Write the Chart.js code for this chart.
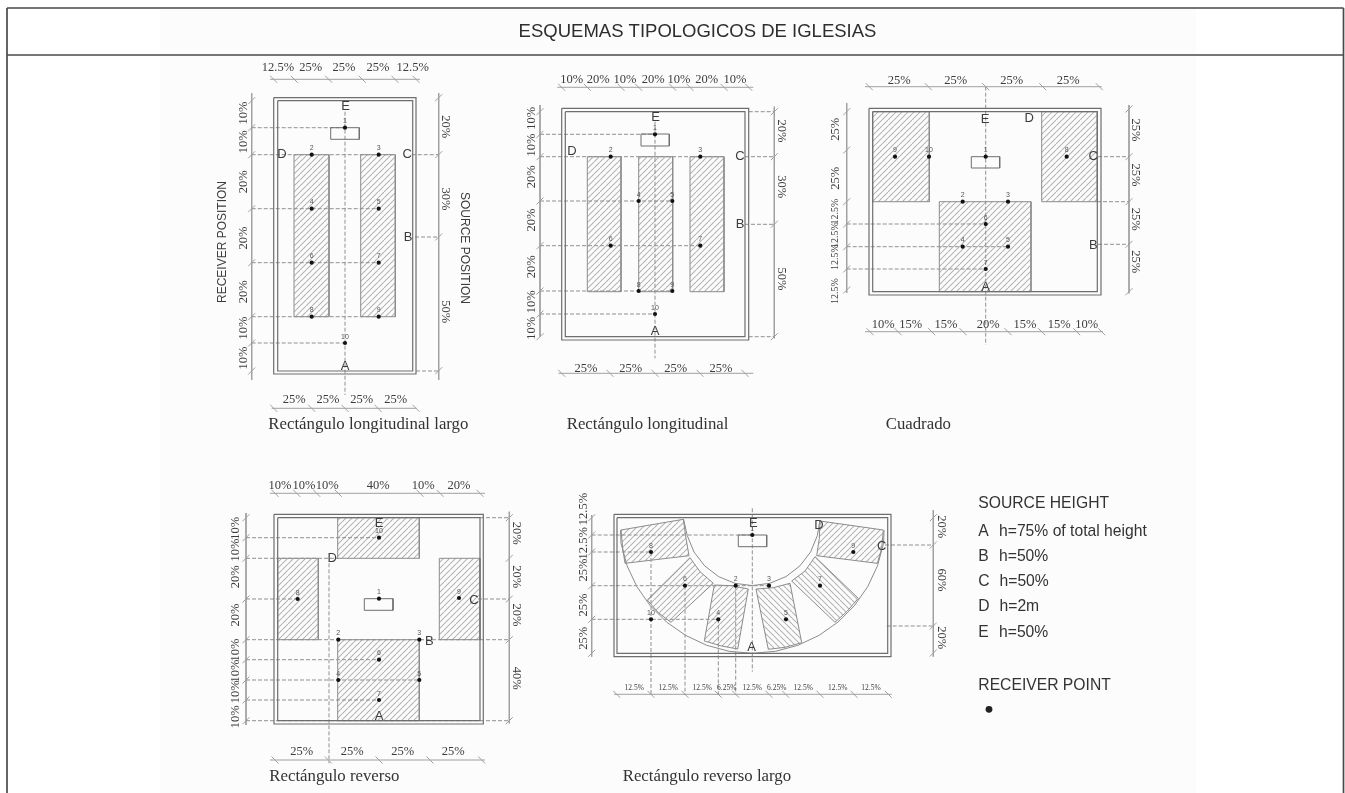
<!DOCTYPE html>
<html><head><meta charset="utf-8">
<style>html,body{margin:0;padding:0;background:#fff;overflow:hidden}canvas{display:block;filter:blur(0.55px)}</style>
<script src="https://cdn.jsdelivr.net/npm/chart.js@4/dist/chart.umd.min.js"></script>
</head><body><canvas id="c" width="1345" height="793"></canvas>
<script>
const titleText = ["ESQUEMAS TIPOLOGICOS DE IGLESIAS", 697.5, 31.5];
const frameLines = [[7,8,7,793],[7,8,1343.5,8],[1343.5,8,1343.5,793],[7,55,1343.5,55]];
const panelBand = [160,9,1196,793];

const wallRects = [
 [273.7,97.7,416,374],[277.7,100.7,412.7,371],
 [561.7,108.3,748.7,340],[565.3,111.7,745,336.7],
 [869,108.3,1101,295],[872.7,111.7,1097.3,291.7],
 [274,514.3,483.3,724],[277.7,517.7,480,720.7],
 [614,514.3,891,656.7],[617,517.7,887.7,653.3]];
const sourceRects = [
 [330.7,127.7,359.3,139.3],[641,134,669.3,146],[971.3,156.7,999.7,168],
 [364.3,598.7,393,610.3],[738.3,535,766.7,546.7]];
const hatchRects = [
 [294,154.7,329,316.7],[360.7,154.7,395.3,316.7],
 [587.3,156.7,621,291.7],[638.7,156.7,672.7,291.7],[690,156.7,724,291.7],
 [872.7,111.7,929.3,201.7],[1041.7,111.7,1097.3,201.7],[939.3,201.7,1031,291.7],
 [337.7,517.7,419.3,558.3],[337.7,639.7,419.3,720.7],[277.7,558.3,318.3,639.7],[439.3,558.3,480,639.7]];
const wedgeA = [[621,530],[683.3,519.3],[686,538.3],[689,555.7],[625,563.3],[622.7,548.3]];
const wedgeB = [[690,557.7],[700,571.7],[713.3,583.3],[671,622.3],[658.3,612.7],[647.3,600]];
const wedgeC = [[714.3,585],[731.7,585.7],[748.3,589],[737.7,649],[721.7,646],[704.3,641]];
const wedgeD = [[756,589],[773.3,587.7],[790,583.3],[801.7,642.7],[785,647.3],[768.3,649.3]];
const wedgeE = [[791.7,581],[805,571],[815,556.7],[858.3,598.3],[847.3,611],[835,622.3]];
const wedgeF = [[816.7,555.7],[819.3,538.3],[820,521],[883.3,530],[881.7,548.3],[877.3,563.3]];
const outerArc = [[620.5,530],[621,543.1],[627,565.6],[636.9,586.7],[650.2,605.7],[666.6,622.1],[685.6,635.4],[706.7,645.3],[729.2,651.3],[752.3,653.3],[775.4,651.3],[797.9,645.3],[819,635.4],[838,622.1],[854.4,605.7],[867.7,586.7],[877.6,565.6],[883.6,543.1],[884,530]];
const innerArc = [[683.5,519],[687.3,535.7],[694,552],[704.7,565.9],[718.6,576.6],[734.9,583.3],[752.3,585.6],[769.7,583.3],[786,576.6],[799.9,565.9],[810.6,552],[817.3,535.7],[820,520]];

const dashedLines = [
 // plan 1
 [345,111.7,345,395],[251.7,127.7,345,127.7],[251.7,154.7,395,154.7],[251.7,208.7,378.7,208.7],[251.7,262.7,378.7,262.7],[251.7,316.7,378.7,316.7],[251.7,343,345,343],
 [411.7,154.7,438.7,154.7],[415,237,438.7,237],[416,371,438.7,371],
 // plan 2
 [655,121.7,655,358.3],[540,134.3,655,134.3],[540,156.7,723,156.7],[540,201,672.7,201],[540,245.7,700,245.7],[540,291,672.7,291],[540,314,655,314],
 [748.7,111.7,774.3,111.7],[745,156.7,774.3,156.7],[745,224.3,774.3,224.3],[748.7,336.7,774.3,336.7],
 // plan 3
 [985.7,86.7,985.7,345],[846.7,224,985.7,224],[846.7,246.7,1008,246.7],[846.7,269,985.7,269],
 [1098,156.7,1129,156.7],[1097,201.7,1129,201.7],[1098,244.3,1129,244.3],
 // plan 4
 [246,537.7,379,537.7],[246,558.3,338.3,558.3],[246,599,297.7,599],[246,639.7,509.3,639.7],[246,659.7,379,659.7],[246,680,419.3,680],[246,700,379,700],[246,720.7,509.3,720.7],
 [480,517.7,509.3,517.7],[478,599,509.3,599],[329,563.3,329,763.3],
 // plan 5
 [752.3,508.3,752.3,671.7],[591.7,535,752.3,535],[591.7,552,651,552],[591.7,585.7,769,585.7],[591.7,619.3,718.3,619.3],
 [651,552,651,695],[685,585.7,685,695],[718.3,619.3,718.3,695],[735.7,585.7,735.7,695],
 [885,545,933.3,545],[886.7,626,933.3,626]];

const dimHorizontal = [
 [79.3,270,420,[273.7,294.3,328.7,362.3,395,416]],
 [408.3,271.7,416.7,[273.7,311.7,345,378,416]],
 [87.3,557.3,753.3,[561.7,587.3,621,638.7,672.7,690,724,748.7]],
 [373.3,558.3,753.3,[561.7,610,655,700,745]],
 [86.7,865,1101.7,[869.3,928.3,985.7,1042.7,1099.3]],
 [331.7,865,1103,[870,898,931.7,963,1008,1041.7,1076.7,1101.7]],
 [493.3,270,485,[275,296.7,316.7,338.3,420,440,480]],
 [760,270,485,[275,328.3,379,430,481.7]],
 [694.3,614,891.7,[616.7,651,685,718.3,735.7,769,785.7,820,854,888.3]]];
const dimVertical = [
 [251.7,93,380,[100.7,127.7,154.7,208.7,262.7,316.7,343,371]],
 [438.7,93,380,[97.7,154.7,237,370.7]],
 [540,105,336.7,[111.7,134.3,156.7,201,245.7,291,314,336.7]],
 [774.3,106.7,338.3,[111.7,156.7,224.3,336.7]],
 [846.7,103,293,[111.7,150,201.7,224,246.7,269,290]],
 [1129,105,293.3,[109,156.7,201.7,244.3,291.7]],
 [246,513,725,[517.7,537.7,558.3,599,639.7,659.7,680,700,720.7]],
 [509.3,511.7,723.3,[517.7,558.3,599,639.7,720.7]],
 [591.7,515,656.7,[517.7,535,552,585.7,619.3,653.3]],
 [933.3,510,656.7,[517.7,545,626,653]]];

const receivers = [
 [345,127.7,"1"],[311.7,154.7,"2"],[378.7,154.7,"3"],[311.7,208.7,"4"],[378.7,208.7,"5"],[311.7,262.7,"6"],[378.7,262.7,"7"],[311.7,316.7,"8"],[378.7,316.7,"9"],[345,343,"10"],
 [655,134.3,"1"],[610.7,156.7,"2"],[700.3,156.7,"3"],[638.7,201,"4"],[672.3,201,"5"],[610.7,245.7,"6"],[700.3,245.7,"7"],[638.7,291,"8"],[672.3,291,"9"],[655,314,"10"],
 [985.7,156.7,"1"],[962.7,201.7,"2"],[1008,201.7,"3"],[962.7,246.7,"4"],[1008,246.7,"5"],[985.7,224,"6"],[985.7,269,"7"],[1066.7,156.7,"8"],[895,156.7,"9"],[929,156.7,"10"],
 [379,598.7,"1"],[338.3,639.7,"2"],[419.3,639.7,"3"],[338.3,680,"4"],[419.3,680,"5"],[379,659.7,"6"],[379,700,"7"],[297.7,599,"8"],[459,598,"9"],[379,537.7,"10"],
 [752.3,535,"1"],[735.7,585.7,"2"],[769,585.7,"3"],[718.3,619.3,"4"],[786,619.3,"5"],[685,585.7,"6"],[820,585.7,"7"],[651,552,"8"],[853.3,552,"9"],[651,619.3,"10"]];
const legendDot = [[989,709.3]];

const letters = [
 ["E",345.7,106],["D",282,154],["C",407.3,154],["B",408,237],["A",345,366.7],
 ["E",655.7,117.7],["D",572,151.7],["C",740,156.7],["B",740,224.3],["A",655,331.7],
 ["E",985,119.3],["D",1029.3,118.3],["C",1093.3,156],["B",1093.3,245],["A",985.7,287.7],
 ["E",379,523.3],["D",332.3,558.3],["C",474,600],["B",429.3,641],["A",379,716],
 ["E",753.3,523.3],["D",819,525],["C",881.7,546.7],["A",751.7,647.7]];
const pctFlat = [
 ["12.5%",278,68],["25%",310.7,68],["25%",344,68],["25%",378,68],["12.5%",412.7,68],
 ["25%",294.3,400],["25%",328,400],["25%",361.7,400],["25%",395.7,400],
 ["10%",571.7,80],["20%",598.3,80],["10%",625,80],["20%",653.3,80],["10%",679,80],["20%",706.7,80],["10%",735,80],
 ["25%",586,368.3],["25%",630.7,368.3],["25%",675.7,368.3],["25%",721,368.3],
 ["25%",899.3,80.7],["25%",955.7,80.7],["25%",1011.7,80.7],["25%",1068.3,80.7],
 ["10%",883.3,325],["15%",910.7,325],["15%",946,325],["20%",988.3,325],["15%",1025,325],["15%",1059.3,325],["10%",1086.7,325],
 ["10%",280,485.7],["10%",304,485.7],["10%",327.3,485.7],["40%",378.3,485.7],["10%",423.3,485.7],["20%",459,485.7],
 ["25%",301.7,751.7],["25%",352.3,751.7],["25%",402.7,751.7],["25%",453.3,751.7]];
const pctFlatTiny = [
 ["12.5%",634.3,688.3],["12.5%",668.3,688.3],["12.5%",702.3,688.3],["6.25%",726.7,688.3],["12.5%",752.3,688.3],["6.25%",776.7,688.3],["12.5%",803.3,688.3],["12.5%",837.7,688.3],["12.5%",871,688.3]];
const pctUp = [
 ["10%",243.3,113],["10%",243.3,141.7],["20%",243.3,181.7],["20%",243.3,238],["20%",243.3,291.7],["10%",243.3,328],["10%",243.3,358],
 ["10%",531.7,118.3],["10%",531.7,145],["20%",531.7,176.7],["20%",531.7,220],["20%",531.7,266.7],["10%",531.7,301.7],["10%",531.7,328.3],
 ["25%",835.7,129.3],["25%",835.7,178.3],
 ["10%",235.7,528.3],["10%",235.7,550],["20%",235.7,576.7],["20%",235.7,615],["10%",235.7,650],["10%",235.7,671],["10%",235.7,691.7],["10%",235.7,716.7],
 ["12.5%",584,509],["12.5%",584,543.3],["25%",584,570],["25%",584,605],["25%",584,638.3]];
const pctUpSmall = [["12.5%",835,211.7],["12.5%",835,235],["12.5%",835,257],["12.5%",835,291]];
const pctDown = [
 ["20%",445.7,126.7],["30%",445.7,199],["50%",445.7,311.7],
 ["20%",781.7,131],["30%",781.7,186.7],["50%",781.7,279],
 ["25%",1135.7,130],["25%",1135.7,175],["25%",1135.7,219.3],["25%",1135.7,261.7],
 ["20%",516.7,533.3],["20%",516.7,576.7],["20%",516.7,615],["40%",516.7,678.3],
 ["20%",941.7,526.7],["60%",941.7,580],["20%",941.7,637.7]];
const sideCaptions = [["RECEIVER POSITION",222.7,242,-1],["SOURCE POSITION",464,248,1]];
const planCaptions = [
 ["Rectángulo longitudinal largo",268.3,425],["Rectángulo longitudinal",566.7,425],["Cuadrado",885.7,425],
 ["Rectángulo reverso",269.3,776.7],["Rectángulo reverso largo",622.7,776.7]];
const legendHead = [["SOURCE HEIGHT",978.3,504],["RECEIVER POINT",978.3,686]];
const legendKeys = [["A",978.3,531.7],["B",978.3,556.7],["C",978.3,581.7],["D",978.3,606.7],["E",978.3,632.3]];
const legendVals = [["h=75% of total height",999,531.7],["h=50%",999,556.7],["h=50%",999.5,581.7],["h=2m",999.5,606.7],["h=50%",999,632.3]];

// ---------- styles ----------
const INK="#3c3c3c", LINE="#6e6e6e", DASH="#909090", DIM="#a0a0a0", HATCH="#b4b4b4", EDGE="#8c8c8c";
const SERIF='"Liberation Serif", serif', SANS='"Liberation Sans", sans-serif';

function hatch(mirror){
  const s=6,c=document.createElement('canvas');c.width=c.height=s;
  const g=c.getContext('2d');g.strokeStyle=HATCH;g.lineWidth=1.1;
  for(const k of [-s,0,s]){g.beginPath();
    if(mirror){g.moveTo(k,0);g.lineTo(k+s,s);}else{g.moveTo(k,s);g.lineTo(k+s,0);}
    g.stroke();}
  return g.createPattern(c,'repeat');
}
const segs=list=>{const o=[];for(const [a,b,c,d] of list){o.push({x:a,y:b},{x:c,y:d},{x:NaN,y:NaN});}return o;};
const rectPts=([a,b,c,d])=>[{x:a,y:b},{x:c,y:b},{x:c,y:d},{x:a,y:d},{x:a,y:b}];
const polyPts=p=>[...p,p[0]].map(([x,y])=>({x,y}));
const lineDs=(data,color,width,order,dash)=>({type:'scatter',data,showLine:true,borderColor:color,borderWidth:width,borderDash:dash||[],pointRadius:0,fill:false,order,spanGaps:false,tension:0});
const dimH=[],dimV=[];
for(const [y,a,b,t] of dimHorizontal){dimH.push([a,y,b,y]);for(const x of t)dimH.push([x-3.5,y-3.5,x+3.5,y+3.5]);}
for(const [x,a,b,t] of dimVertical){dimV.push([x,a,x,b]);for(const y of t)dimV.push([x-3.5,y+3.5,x+3.5,y-3.5]);}

const datasets=[];
const fwd=hatch(false),back=hatch(true);
const fillDs=(data,pat)=>({type:'scatter',data,showLine:true,fill:'shape',backgroundColor:pat,borderColor:EDGE,borderWidth:1,pointRadius:0,order:6,tension:0});
hatchRects.forEach(r=>datasets.push(fillDs(rectPts(r),fwd)));
datasets.push(fillDs(polyPts(wedgeA),fwd),fillDs(polyPts(wedgeB),fwd),fillDs(polyPts(wedgeC),fwd),fillDs(polyPts(wedgeD),back),fillDs(polyPts(wedgeE),back),fillDs(polyPts(wedgeF),fwd));
datasets.push(lineDs(outerArc.map(([x,y])=>({x,y})),EDGE,1,5));
datasets.push(lineDs(innerArc.map(([x,y])=>({x,y})),EDGE,1,5));
datasets.push(lineDs(segs(dimH),DIM,1,4));
datasets.push(lineDs(segs(dimV),DIM,1,4));
datasets.push(lineDs(segs(dashedLines),DASH,1,3,[4,2]));
wallRects.forEach(r=>datasets.push(lineDs(rectPts(r),LINE,1.2,2)));
sourceRects.forEach(r=>datasets.push(lineDs(rectPts(r),LINE,1,2)));
datasets.push(lineDs(segs(frameLines),"#4a4a4a",1.7,2));
datasets.push({type:'scatter',data:receivers.map(([x,y])=>({x,y})),pointRadius:2.1,pointBackgroundColor:"#111",pointBorderWidth:0,showLine:false,order:1});
datasets.push({type:'scatter',data:legendDot.map(([x,y])=>({x,y})),pointRadius:3.4,pointBackgroundColor:"#222",pointBorderWidth:0,showLine:false,order:1});

const backdrop={id:'backdrop',beforeDatasetsDraw(ch){
  const {ctx,scales:{x,y}}=ch;const [a,b,c,d]=panelBand;
  ctx.save();ctx.fillStyle="#fff";ctx.fillRect(0,0,ch.width,ch.height);
  ctx.fillStyle="#fcfcfc";ctx.fillRect(x.getPixelForValue(a),y.getPixelForValue(b),x.getPixelForValue(c)-x.getPixelForValue(a),y.getPixelForValue(d)-y.getPixelForValue(b));
  ctx.restore();}};
const texts={id:'texts',afterDatasetsDraw(ch){
  const {ctx,scales:{x,y}}=ch;
  const put=(list,font,color,align,rot)=>{ctx.save();ctx.font=font;ctx.fillStyle=color;ctx.textAlign=align;ctx.textBaseline='middle';
    for(const it of list){const r=rot===undefined?0:rot;
      ctx.save();ctx.translate(x.getPixelForValue(it[1]),y.getPixelForValue(it[2]));
      ctx.rotate((it.length>3?it[3]:r)*Math.PI/2);ctx.fillText(it[0],0,0);ctx.restore();}
    ctx.restore();};
  put([titleText],'18.5px '+SANS,"#2e2e2e",'center');
  put(letters,'13px '+SANS,INK,'center');
  put(pctFlat,'12.5px '+SERIF,INK,'center');
  put(pctFlatTiny,'7.5px '+SERIF,INK,'center');
  put(pctUp,'12.5px '+SERIF,INK,'center',-1);
  put(pctUpSmall,'10px '+SERIF,INK,'center',-1);
  put(pctDown,'12.5px '+SERIF,INK,'center',1);
  put(sideCaptions,'12px '+SANS,INK,'center');
  put(planCaptions,'16.8px '+SERIF,"#333",'left');
  put(legendHead,'15.7px '+SANS,"#333",'left');
  put(legendKeys,'15.7px '+SANS,"#333",'left');
  put(legendVals,'15.7px '+SANS,"#333",'left');
  put(receivers.map(([px,py,t])=>[t,px,py-6.2]),'7px '+SANS,"#555",'center');
}};

new Chart(document.getElementById('c'),{
  type:'scatter',
  data:{datasets},
  options:{responsive:false,animation:false,events:[],
    layout:{padding:0,autoPadding:false},
    plugins:{legend:{display:false},tooltip:{enabled:false},title:{display:false}},
    scales:{x:{type:'linear',min:0,max:1345,display:false},
            y:{type:'linear',min:0,max:793,reverse:true,display:false}}},
  plugins:[backdrop,texts]});
</script></body></html>
